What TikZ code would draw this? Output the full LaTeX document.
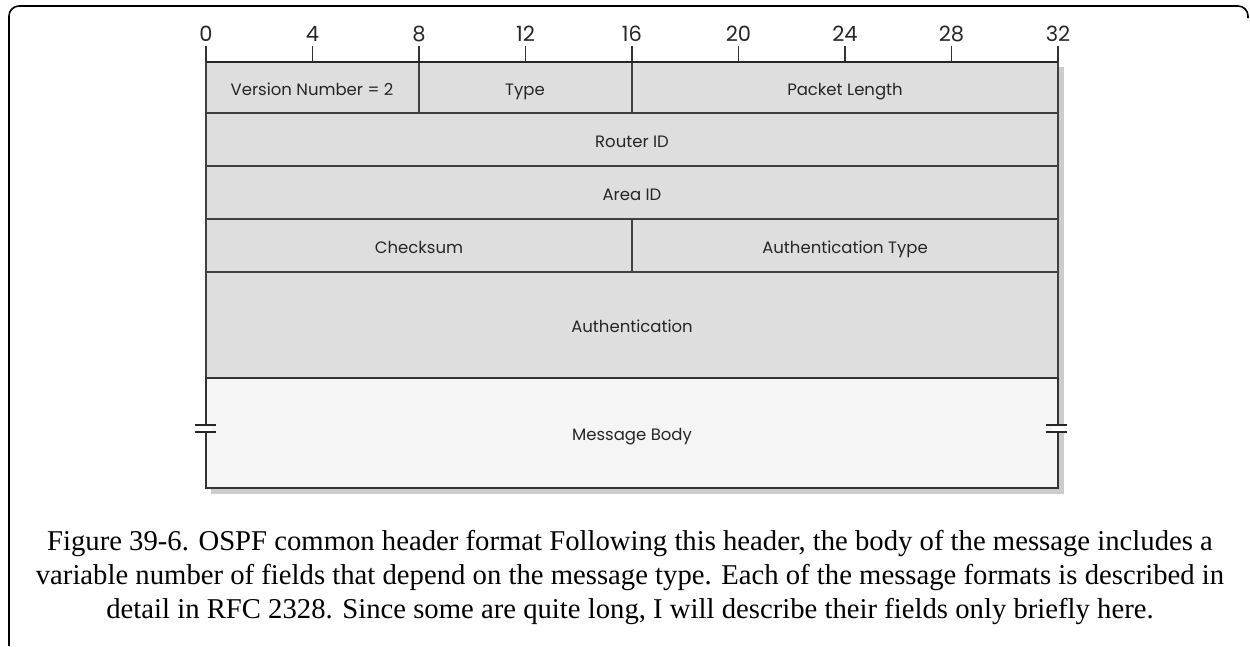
\documentclass[tikz,border=0pt]{standalone}
\usepackage{fontspec}
\setmainfont{Liberation Serif}
\newfontfamily\labfont{Poppins}
\begin{document}
\begin{tikzpicture}[x=1pt,y=-1pt,
  field/.style={draw=black!75, line width=1.6pt, fill=black!13},
  bodyfield/.style={draw=black!80, line width=1.6pt, fill=black!4},
  lab/.style={font=\labfont\fontsize{16.5}{18}\selectfont, text=black!85, inner sep=0pt, anchor=base},
  num/.style={font=\labfont\fontsize{21}{22}\selectfont, text=black!85, inner sep=0pt, anchor=base},
  tickmark/.style={line width=1.6pt, draw=black!80},
  brk/.style={line width=1.8pt, draw=black!85},
  captext/.style={font=\fontsize{28.7}{34}\selectfont, anchor=base, inner sep=0pt}]
\useasboundingbox (0,0) rectangle (1250,646);
\fill[white] (0,0) rectangle (1250,646);
% outer frame
\draw[line width=1.6pt, rounded corners=10pt] (9,646) -- (9,6) -- (1248,6) -- (1248,18);
% shadow
\fill[black!20] (211,67) rectangle (1064,494);
% ruler
\foreach \b in {0,4,...,32} {
  \node[num] (n\b) at ({206+26.625*\b},41) {\b};
  \coordinate (t\b) at ({206+26.625*\b},46);
  \coordinate (b\b) at ({206+26.625*\b},62);
  \draw[tickmark] (t\b) -- (b\b);
}
% rows
\draw[field] (206,62) rectangle (1058,113);
\draw[field] (206,113) rectangle (1058,166);
\draw[field] (206,166) rectangle (1058,219);
\draw[field] (206,219) rectangle (1058,272);
\draw[field] (206,272) rectangle (1058,378);
\draw[bodyfield] (206,378) rectangle (1058,488);
\draw[field] (419,62) -- (419,113);
\draw[field] (632,62) -- (632,113);
\draw[field] (632,219) -- (632,272);
\draw[line width=2pt, draw=black!85] (206,62) -- (1058,62);
% break marks
\fill[white] (200,425) rectangle (212,432);
\fill[white] (1052,425) rectangle (1064,432);
\draw[brk] (195,425) -- (216,425);
\draw[brk] (195,432) -- (216,432);
\draw[brk] (1046,425) -- (1067,425);
\draw[brk] (1046,432) -- (1067,432);
% labels
\node[lab] (ver) at (312,95) {Version Number = 2};
\node[lab] (type) at (525,95) {Type};
\node[lab] (plen) at (845,95) {Packet Length};
\node[lab] (rid) at (632,147) {Router ID};
\node[lab] (aid) at (632,200) {Area ID};
\node[lab] (cks) at (419,253) {Checksum};
\node[lab] (atype) at (845,253) {Authentication Type};
\node[lab] (auth) at (632,332) {Authentication};
\node[lab] (body) at (632,440) {Message Body};
% caption
\node[captext] (c1) at (630,550) {Figure 39-6. OSPF common header format Following this header, the body of the message includes a};
\node[captext] (c2) at (630,584) {variable number of fields that depend on the message type. Each of the message formats is described in};
\node[captext] (c3) at (630,618) {detail in RFC 2328. Since some are quite long, I will describe their fields only briefly here.};
\end{tikzpicture}
\end{document}
